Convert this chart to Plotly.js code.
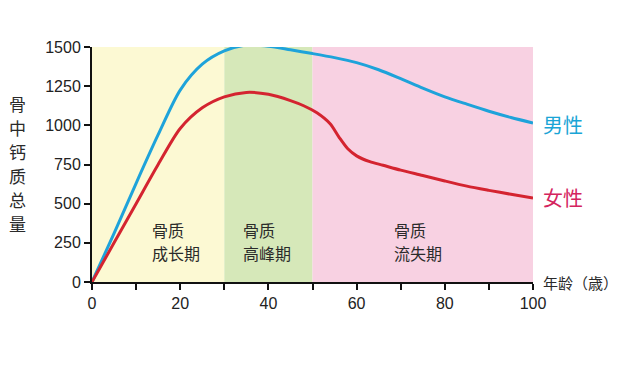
<!DOCTYPE html>
<html><head><meta charset="utf-8">
<script src="https://cdn.plot.ly/plotly-3.0.1.min.js"></script>
<style>html,body{margin:0;padding:0;background:#fff;}#chart{width:638px;height:370px;}</style>
</head><body><div id="chart"></div>
<script>
const ages = [0,5,10,15,20,25,30,35,40,45,50,55,60,65,70,75,80,85,90,95,100];
const male = [0,310,630,940,1225,1390,1475,1512,1505,1482,1458,1432,1400,1355,1298,1238,1182,1135,1090,1050,1015];
const femaleAges = [0,5,10,15,20,25,30,35,40,45,48,51,54,56,58,60,63,66,70,75,80,85,90,95,100];
const female = [0,250,500,750,980,1112,1182,1210,1198,1158,1125,1080,1010,925,850,805,768,745,714,680,645,612,585,560,536];
const phases = [
  {x0:0, x1:30, color:'#fcf9d3', top:'骨质', bottom:'成长期', lx:13.2},
  {x0:30, x1:50, color:'#d6e8b9', top:'骨质', bottom:'高峰期', lx:33.8},
  {x0:50, x1:100, color:'#f8d1e2', top:'骨质', bottom:'流失期', lx:68}
];
const xTickVals = [0,10,20,30,40,50,60,70,80,90,100];
const xTickText = ['0','','20','','40','','60','','80','','100'];
const yTickVals = [0,250,500,750,1000,1250,1500];
const seriesNames = ['男性','女性'];
const yTitleChars = ['骨','中','钙','质','总','量'];
const xTitle = '年龄（歳）';

const blue = '#1ea3da', red = '#d42430';
const traces = [
  {x: ages, y: male, mode:'lines', line:{color:blue, width:3, shape:'spline', smoothing:0.8}, hoverinfo:'skip'},
  {x: femaleAges, y: female, mode:'lines', line:{color:red, width:3, shape:'spline', smoothing:0.8}, hoverinfo:'skip'}
];
const shapes = phases.map(p => ({type:'rect', xref:'x', yref:'paper', x0:p.x0, x1:p.x1, y0:0, y1:1, fillcolor:p.color, line:{width:0}, layer:'below'}));
const font = 'Liberation Sans, Arial, Noto Sans CJK SC, sans-serif';
const cjk = 'Noto Sans CJK SC, sans-serif';
const annotations = [];
phases.forEach(p => {
  annotations.push({xref:'x', yref:'y', x:p.lx, y:332, text:p.top, showarrow:false, xanchor:'left', yanchor:'middle', align:'left', font:{family:cjk, size:16, color:'#2a2a2a'}});
  annotations.push({xref:'x', yref:'y', x:p.lx, y:185, text:p.bottom, showarrow:false, xanchor:'left', yanchor:'middle', align:'left', font:{family:cjk, size:16, color:'#2a2a2a'}});
});
annotations.push({xref:'x', yref:'y', x:100, y:male[male.length-1], text:seriesNames[0], showarrow:false, xanchor:'left', xshift:8, yshift:-2, font:{family:cjk, size:20, color:'#1aa5d6'}});
annotations.push({xref:'x', yref:'y', x:100, y:female[female.length-1], text:seriesNames[1], showarrow:false, xanchor:'left', xshift:8, yshift:1, font:{family:cjk, size:20, color:'#d4245e'}});
yTitleChars.forEach((c, i) => {
  annotations.push({xref:'paper', yref:'paper', x:0, y:0.506, xshift:-75, yshift:(2.5 - i) * 24, text:c, showarrow:false, xanchor:'center', yanchor:'middle', borderpad:0, font:{family:cjk, size:17, color:'#2a2a2a'}});
});
annotations.push({xref:'paper', yref:'paper', x:1, y:0, xshift:8, yshift:0, text:xTitle, showarrow:false, xanchor:'left', yanchor:'middle', font:{family:cjk, size:15, color:'#2a2a2a'}});

const layout = {
  width:638, height:370,
  margin:{l:92, r:105, t:47, b:88},
  paper_bgcolor:'#ffffff', plot_bgcolor:'rgba(0,0,0,0)',
  showlegend:false,
  font:{family:font, color:'#222'},
  xaxis:{range:[0,100], tickmode:'array', tickvals:xTickVals, ticktext:xTickText, ticks:'outside', ticklen:6, tickwidth:2, tickcolor:'#111', showline:true, linecolor:'#111', linewidth:2, showgrid:false, zeroline:false, tickfont:{size:16, color:'#222'}, fixedrange:true},
  yaxis:{range:[0,1500], tickmode:'array', tickvals:yTickVals, ticks:'outside', ticklen:6, tickwidth:2, tickcolor:'#111', showline:true, linecolor:'#111', linewidth:2, showgrid:false, zeroline:false, tickfont:{size:16, color:'#222'}, fixedrange:true},
  shapes: shapes,
  annotations: annotations
};
Plotly.newPlot('chart', traces, layout, {displayModeBar:false, staticPlot:true});
</script></body></html>
